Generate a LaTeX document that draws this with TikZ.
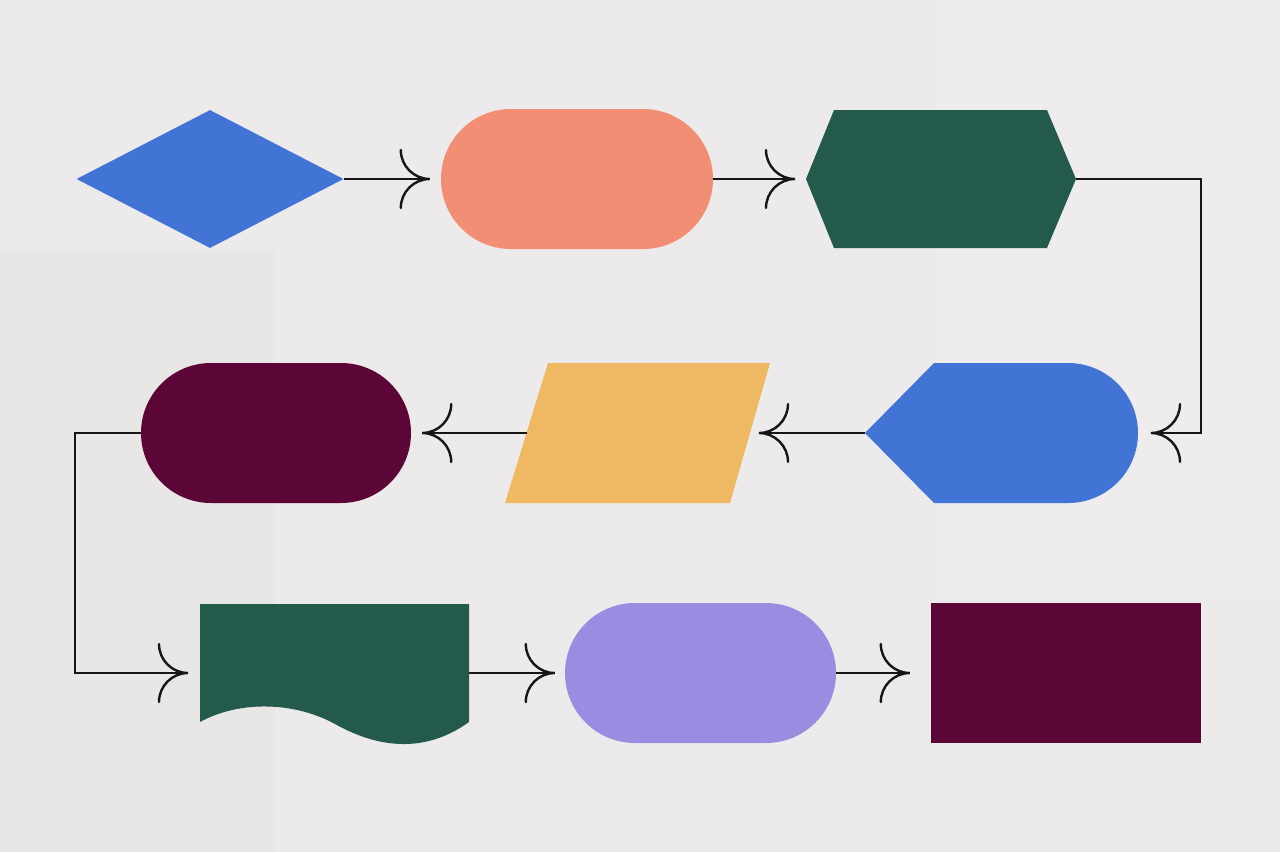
\documentclass[tikz,border=0pt]{standalone}
\usetikzlibrary{shapes.geometric}
\definecolor{bgbase}{HTML}{ECEAEA}
\definecolor{bgdark}{HTML}{E8E7E6}
\definecolor{bglight}{HTML}{EEECED}
\definecolor{cblue}{HTML}{4274D6}
\definecolor{csalmon}{HTML}{F18E74}
\definecolor{cgreen}{HTML}{245A4C}
\definecolor{cmaroon}{HTML}{5C0537}
\definecolor{cyellow}{HTML}{EFB963}
\definecolor{clav}{HTML}{9B8CE2}
\definecolor{cline}{HTML}{161616}
\tikzset{
  conn/.style={draw=cline, line width=2.4pt},
  pill/.style={rectangle, rounded corners=70pt, minimum height=140pt, inner sep=0pt, draw=none},
  tipR/.pic={\draw[conn, line cap=round] (-29,-29) .. controls (-29,-13) and (-16,0) .. (0,0) .. controls (-16,0) and (-29,13) .. (-29,29);}
}
\begin{document}
\begin{tikzpicture}[x=1pt,y=-1pt]
\useasboundingbox (0,0) rectangle (1280,852);
% background
\fill[bgbase] (0,0) rectangle (1280,852);
\fill[bgdark] (0,250) rectangle (275,852);
\fill[bglight] (935,0) rectangle (1280,600);

% shapes
\node[diamond, fill=cblue, minimum width=267pt, minimum height=138pt, inner sep=0pt] (dia) at (210,179) {};
\node[pill, fill=csalmon, minimum width=272pt] (p1) at (577,179) {};
\fill[cgreen] (806,179) -- (834,110) -- (1047,110) -- (1076,179) -- (1047,248) -- (834,248) -- cycle;
\coordinate (hexW) at (806,179);
\coordinate (hexE) at (1076,179);

\fill[cblue] (865,433) -- (934,363) -- (1068,363) arc(-90:90:70) -- (934,503) -- cycle;
\coordinate (dispW) at (865,433);
\coordinate (dispE) at (1138,433);

\fill[cyellow] (548,363) -- (770,363) -- (730,503) -- (505,503) -- cycle;
\coordinate (parR) at (750,433);
\coordinate (parL) at (526.5,433);

\node[pill, fill=cmaroon, minimum width=270pt] (m1) at (276,433) {};

\fill[cgreen] (200,604) -- (469,604) -- (469,722)
  .. controls (430,750) and (385,752) .. (335,724)
  .. controls (295,702) and (240,700) .. (200,722) -- cycle;
\coordinate (docW) at (200,673);
\coordinate (docE) at (469,673);

\node[pill, fill=clav, minimum width=271pt] (lav) at (700.5,673) {};
\node[rectangle, fill=cmaroon, minimum width=270pt, minimum height=140pt, inner sep=0pt] (rect) at (1066,673) {};

% connectors
\coordinate (c3) at (1201,433);
\coordinate (c6) at (75,673);
\draw[conn] (dia.east) -- ([xshift=-11pt]p1.west) pic{tipR};
\draw[conn] (p1.east) -- ([xshift=-11pt]hexW) pic{tipR};
\draw[conn] (hexE) -| (c3) -- ([xshift=13pt]dispE) pic[rotate=180]{tipR};
\draw[conn] (dispW) -- ([xshift=9pt]parR) pic[rotate=180]{tipR};
\draw[conn] (parL) -- ([xshift=11pt]m1.east) pic[rotate=180]{tipR};
\draw[conn] (m1.west) -| (c6) -- ([xshift=-12pt]docW) pic{tipR};
\draw[conn] (docE) -- ([xshift=-10pt]lav.west) pic{tipR};
\draw[conn] (lav.east) -- ([xshift=-21pt]rect.west) pic{tipR};
\end{tikzpicture}
\end{document}
